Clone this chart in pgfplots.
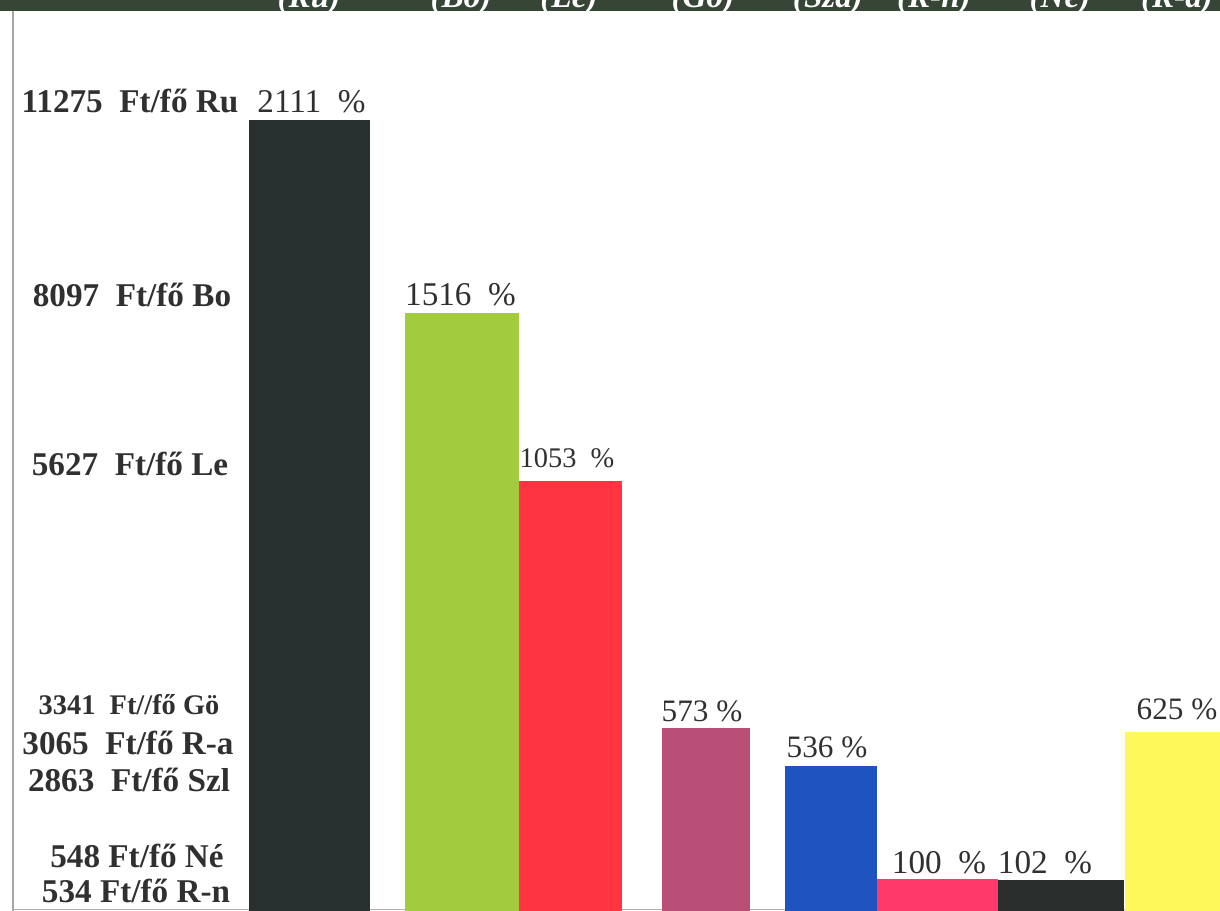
\documentclass[border=0pt]{standalone}
\usepackage{pgfplots}
\pgfplotsset{compat=1.18}
\usepackage{fontspec}
\setmainfont{Liberation Serif}
\definecolor{band}{HTML}{364536}
\definecolor{cRu}{HTML}{283030}
\definecolor{cBo}{HTML}{A2CC3E}
\definecolor{cLe}{HTML}{FF3440}
\definecolor{cGo}{HTML}{B94F76}
\definecolor{cSz}{HTML}{1F53C0}
\definecolor{cRn}{HTML}{FF3A6A}
\definecolor{cNe}{HTML}{2A2E2C}
\definecolor{cRa}{HTML}{FFF85A}
\definecolor{txt}{HTML}{303030}
\newcommand{\fa}{\fontsize{16.6bp}{19bp}\selectfont}
\newcommand{\fc}{\fontsize{15.6bp}{18bp}\selectfont}
\newcommand{\fb}{\fontsize{14.2bp}{17bp}\selectfont}
\begin{document}
\begin{tikzpicture}
\begin{axis}[name=ax, width=610bp, height=455.5bp, scale only axis,
  xmin=0, xmax=1220, ymin=0, ymax=911, hide axis, clip=false]
% frame and top band
\fill[band] (axis cs:0,900) rectangle (axis cs:1220,915);
\draw[gray!70, line width=0.7bp] (axis cs:13,0) -- (axis cs:13,900);
\draw[gray!60, line width=0.7bp] (axis cs:13,1.5) -- (axis cs:1220,1.5);
% bars (height in picture units)
\addplot[ybar, bar width=121, bar shift=0pt, fill=cRu, draw=none] coordinates {(309.5,791)};
\addplot[ybar, bar width=114, bar shift=0pt, fill=cBo, draw=none] coordinates {(462,598)};
\addplot[ybar, bar width=103, bar shift=0pt, fill=cLe, draw=none] coordinates {(570.5,430)};
\addplot[ybar, bar width=88, bar shift=0pt, fill=cGo, draw=none] coordinates {(706,183)};
\addplot[ybar, bar width=92, bar shift=0pt, fill=cSz, draw=none] coordinates {(831,145)};
\addplot[ybar, bar width=121, bar shift=0pt, fill=cRn, draw=none] coordinates {(937.5,32)};
\addplot[ybar, bar width=126, bar shift=0pt, fill=cNe, draw=none] coordinates {(1061,31)};
\addplot[ybar, bar width=95, bar shift=0pt, fill=cRa, draw=none] coordinates {(1172.5,179)};
% band labels
\begin{scope}[every node/.style={anchor=base, text=white, font=\fa\bfseries\itshape}]
\node at (axis cs:309,903) {(Ru)};
\node at (axis cs:461,903) {(Bo)};
\node at (axis cs:569,903) {(Le)};
\node at (axis cs:703,903) {(Gö)};
\node at (axis cs:828,903) {(Sza)};
\node at (axis cs:934,903) {(R-n)};
\node at (axis cs:1060,903) {(Né)};
\node at (axis cs:1177,903) {(R-a)};
\end{scope}
% percent labels
\begin{scope}[every node/.style={anchor=base, text=txt, font=\fa, inner sep=0pt}]
\node at (axis cs:311.5,798) {2111~~\%};
\node at (axis cs:460.5,605) {1516~~\%};
\node[font=\fb] at (axis cs:567,443) {1053~~\%};
\node[font=\fc] at (axis cs:702,189) {573 \%};
\node[font=\fc] at (axis cs:827,153) {536 \%};
\node at (axis cs:939,38) {100~~\%};
\node at (axis cs:1045,38) {102~~\%};
\node[font=\fc] at (axis cs:1177,191) {625 \%};
\end{scope}
% left labels
\begin{scope}[every node/.style={anchor=base, text=txt, font=\fa\bfseries, inner sep=0pt}]
\node at (axis cs:130,798) {11275~~Ft/fő Ru};
\node at (axis cs:132,604) {8097~~Ft/fő Bo};
\node at (axis cs:130,435) {5627~~Ft/fő Le};
\node[font=\fb\bfseries] at (axis cs:129,196) {3341~~Ft//fő Gö};
\node at (axis cs:128,156) {3065~~Ft/fő R-a};
\node at (axis cs:129,119) {2863~~Ft/fő Szl};
\node at (axis cs:137,44) {548 Ft/fő Né};
\node at (axis cs:136,9) {534 Ft/fő R-n};
\end{scope}
\end{axis}
\pgfresetboundingbox
\path[use as bounding box] (ax.south west) rectangle (ax.north east);
\end{tikzpicture}
\end{document}
